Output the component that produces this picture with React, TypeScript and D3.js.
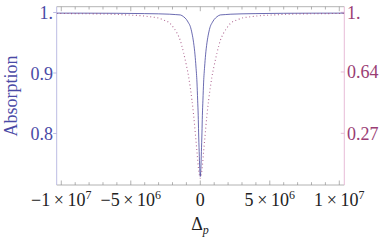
import React from "react";
import * as d3 from "d3";

// x values in units of 1e6
const blueDelta = [-10.33, -8, -6, -4, -3, -2.2, -1.8, -1.44, -1.2, -1.0, -0.85, -0.72, -0.6, -0.48, -0.38, -0.31, -0.24, -0.19, -0.15, -0.12, -0.08, -0.04, 0,
  0.04, 0.08, 0.12, 0.15, 0.19, 0.24, 0.31, 0.38, 0.48, 0.6, 0.72, 0.85, 1.0, 1.2, 1.44, 1.8, 2.2, 3, 4, 6, 8, 10.36];
const blueAbs = [0.999, 0.9989, 0.9987, 0.9982, 0.9978, 0.9972, 0.9966, 0.996, 0.993, 0.9885, 0.983, 0.977, 0.966, 0.95, 0.93, 0.91, 0.885, 0.855, 0.83, 0.801, 0.77, 0.742, 0.729,
  0.742, 0.77, 0.801, 0.83, 0.855, 0.885, 0.91, 0.93, 0.95, 0.966, 0.977, 0.983, 0.9885, 0.993, 0.996, 0.9966, 0.9972, 0.9978, 0.9982, 0.9987, 0.9989, 0.999];

const pinkDelta = [-10.33, -8, -6.5, -5.25, -4.2, -3.6, -3.0, -2.64, -2.2, -1.9, -1.68, -1.44, -1.2, -1.0, -0.84, -0.72, -0.6, -0.48, -0.36, -0.24, -0.12, 0,
  0.12, 0.24, 0.36, 0.48, 0.6, 0.72, 0.84, 1.0, 1.2, 1.44, 1.68, 1.9, 2.2, 2.64, 3.0, 3.6, 4.2, 5.25, 6.5, 8, 10.36];
const pinkVal = [0.993, 0.991, 0.989, 0.984, 0.979, 0.973, 0.965, 0.954, 0.935, 0.905, 0.875, 0.83, 0.755, 0.68, 0.612, 0.545, 0.471, 0.38, 0.272, 0.16, 0.05, 0.0,
  0.05, 0.16, 0.272, 0.38, 0.471, 0.545, 0.612, 0.68, 0.755, 0.83, 0.875, 0.905, 0.935, 0.954, 0.965, 0.973, 0.979, 0.984, 0.989, 0.991, 0.993];

const leftTicks = [1, 0.9, 0.8];
const leftTickLabels = ["1.", "0.9", "0.8"];
const rightTicks = [1, 0.64, 0.27];
const rightTickLabels = ["1.", "0.64", "0.27"];
const xMajor = [-1e7, -5e6, 0, 5e6, 1e7];
const xMajorLabels: [string, string][] = [
  ["\u22121\u2009\u00d7\u200910", "7"],
  ["\u22125\u2009\u00d7\u200910", "6"],
  ["0", ""],
  ["5\u2009\u00d7\u200910", "6"],
  ["1\u2009\u00d7\u200910", "7"],
];
const xMinor = d3.range(-10, 11).map((k) => k * 1e6);

const W = 382, H = 244;
const X0 = 56.7, X1 = 344.3, Y0 = 6.7, Y1 = 185;
const BLUE = "#3d3d99";
const MAG = "#993d74";
const FONT = "'Liberation Serif', 'Times New Roman', serif";

export default function App() {
  const x = d3.scaleLinear().domain([-1.033e7, 1.036e7]).range([X0, X1]);
  const yL = d3.scaleLinear().domain([0.7149, 1.0096]).range([Y1, Y0]);
  const yR = d3.scaleLinear().domain([-0.0416, 1.0338]).range([Y1, Y0]);

  const blueLine = d3.line<number>()
    .x((_, i) => x(blueDelta[i] * 1e6))
    .y((d) => yL(d))
    .curve(d3.curveMonotoneX);
  const pinkLine = d3.line<number>()
    .x((_, i) => x(pinkDelta[i] * 1e6))
    .y((d) => yR(d))
    .curve(d3.curveMonotoneX);

  return (
    <svg width={W} height={H} style={{ position: "absolute", left: 0, top: 0, background: "#fff" }} fontFamily={FONT}>
      <defs>
        <clipPath id="plot">
          <rect x={X0} y={Y0} width={X1 - X0} height={Y1 - Y0} />
        </clipPath>
      </defs>
      {/* frame */}
      <line x1={X0} x2={X1} y1={Y0} y2={Y0} stroke="#a0a0a0" strokeWidth={0.8} />
      <line x1={X0} x2={X1} y1={Y1} y2={Y1} stroke="#a0a0a0" strokeWidth={0.8} />
      <line x1={X0} x2={X0} y1={Y0} y2={Y1} stroke="#b4b4e0" strokeWidth={0.9} />
      <line x1={X1} x2={X1} y1={Y0} y2={Y1} stroke="#e4b4d2" strokeWidth={0.9} />
      {/* x ticks */}
      {xMinor.map((v) => {
        const major = v % 5e6 === 0;
        const len = major ? 4.5 : 2.8;
        return (
          <g key={v}>
            <line x1={x(v)} x2={x(v)} y1={Y1} y2={Y1 - len} stroke="#909090" strokeWidth={0.7} />
            <line x1={x(v)} x2={x(v)} y1={Y0} y2={Y0 + len} stroke="#909090" strokeWidth={0.7} />
          </g>
        );
      })}
      {xMajor.map((v, i) => (
        <text key={v} x={x(v)} y={205.5} fontSize={18} textAnchor="middle" fill="#222">
          {xMajorLabels[i][0]}
          {xMajorLabels[i][1] ? (
            <tspan fontSize={12} dy={-7}>{xMajorLabels[i][1]}</tspan>
          ) : null}
        </text>
      ))}
      {/* left ticks */}
      {leftTicks.map((v, i) => (
        <g key={v}>
          <line x1={X0 - 3.5} x2={X0} y1={yL(v)} y2={yL(v)} stroke="#b4b4e0" strokeWidth={0.9} />
          <text x={53} y={yL(v) + 6.5} fontSize={18} textAnchor="end" fill="#4a4aa6">{leftTickLabels[i]}</text>
        </g>
      ))}
      {/* right ticks */}
      {rightTicks.map((v, i) => (
        <g key={v}>
          <line x1={X1 - 3.5} x2={X1} y1={yR(v)} y2={yR(v)} stroke="#e4b4d2" strokeWidth={0.9} />
          <text x={347} y={yR(v) + 6.5} fontSize={18} textAnchor="start" fill="#9a3d74">{rightTickLabels[i]}</text>
        </g>
      ))}
      {/* curves */}
      <g clipPath="url(#plot)">
        <path d={blueLine(blueAbs) || ""} fill="none" stroke={BLUE} strokeWidth={0.9} opacity={0.85} />
        <path d={pinkLine(pinkVal) || ""} fill="none" stroke={MAG} strokeWidth={1.1} strokeDasharray="1 2.6" opacity={0.75} />
      </g>
      {/* axis labels */}
      <text transform={`translate(16.5, 96) rotate(-90)`} fontSize={18} textAnchor="middle" fill="#4a4aa6">Absorption</text>
      <text x={200} y={230} fontSize={18} textAnchor="middle" fill="#222">
        Δ<tspan fontSize={12} fontStyle="italic" dy={4}>p</tspan>
      </text>
    </svg>
  );
}
